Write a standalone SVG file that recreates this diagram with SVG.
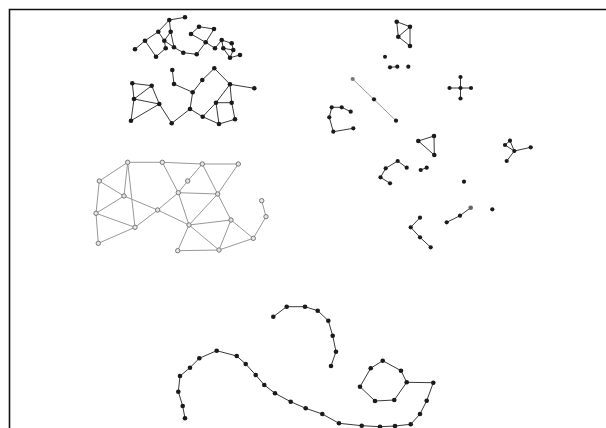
<svg xmlns="http://www.w3.org/2000/svg" width="606" height="428" viewBox="0 0 606 428">
<style>
.e{fill:none;stroke:#3a3a3a;stroke-width:1}
.eg{fill:none;stroke:#999;stroke-width:1}
.n{fill:#1a1a1a}
.ng{fill:#e6e6e6;stroke:#777;stroke-width:1}
</style>
<rect width="606" height="428" fill="#fff"/>
<path d="M9.5 428V9.5H606" fill="none" stroke="#111" stroke-width="1.6"/>
<g id="connectors">
<path class="e" d="M169.3 20L185 17.3M169.3 20L158.3 31.7M169.3 20L170.7 31.7M158.3 31.7L145 40.7M145 40.7L135 49.3M145 40.7L156 56.7M158.3 31.7L164.3 40.7M170.7 31.7L164.3 40.7M170.7 31.7L174 47.3M164.3 40.7L165.7 48.3M165.7 48.3L156 56.7M164.3 40.7L174 47.3M174 47.3L183.3 52.7L196.7 54.3L205.7 42.3L191 34L199 26.7L214 29L205.7 42.3L215 48.3L221.7 40L231.7 43.3L233.3 50L230 57.7L240 55M221.7 40L223.3 48.3L233.3 50M223.3 48.3L230 57.7"/>
<path class="e" d="M132.3 83.3L151.7 85.7L159.3 104L134 99L132.3 83.3M134 99L151.7 85.7M134 99L131 120.7L159.3 104L171.7 123.3L190 109L192.7 92.3L174 84L172.3 70M192.7 92.3L202.3 80L214.3 68.3L230 84.3L254.3 88.3M230 84.3L216 102.7L231.7 102.7L230 84.3M231.7 102.7L235 119.3L219 124L216 102.7M190 109L202.7 116.7L219 124M202.7 116.7L216 102.7"/>
<path class="eg" d="M127.7 162.3L162.3 162.3L202.3 164L238.3 164M127.7 162.3L99.3 181L124 196L127.7 162.3M99.3 181L96 213.3L124 196M127.7 162.3L135 227.3M96 213.3L135 227.3L98.3 243.3L96 213.3M124 196L157.7 210L135 227.3M157.7 210L178.3 192.7L187.7 181L202.3 164M162.3 162.3L178.3 192.7L217.7 194L202.3 164M238.3 164L217.7 194M178.3 192.7L189 225L157.7 210M217.7 194L189 225L231 220L217.7 194M189 225L177.7 250.7L219 250L189 225M231 220L219 250L253.3 238.3L231 220M253.3 238.3L266 216.7L261.7 200.7"/>
<path class="e" d="M396.7 21.7L410 26.7L398.3 36.7L396.7 21.7M410 26.7L410 46L398.3 36.7M390 67.3L397.3 66.7"/>
<path class="eg" d="M352.7 79L396 120.7" stroke-width="1.6"/>
<path class="e" d="M350.7 111.7L341.7 107.3L331.7 107.3L329.3 117.3L333.3 131.7L353.3 128.3"/>
<path class="e" d="M418.3 141L434 136L434.3 155Z"/>
<path class="e" d="M406.7 167.7L397.7 161L385.7 168.3L380.5 177.3L390 183.3M420.7 170L426.7 167.7"/>
<path class="e" d="M449.5 88H471M460.5 77V98.5"/>
<path class="e" d="M505 145L510 140.7L514.3 151L530.7 147.3M505 145L514.3 151L506.7 161"/>
<path class="e" d="M446.7 222.3L460 215.7L470.7 207.7"/>
<path class="e" d="M420 217.7L410.7 227.3L420 237.3L430.7 247.3"/>
<path class="e" d="M273.3 316.7L286.7 306.7L305 306.7L317.7 310.7L328.3 320.7L332.7 335.7L336 351.7L331 366"/>
<path class="e" d="M185 418.3L182.7 406L178.3 391.7L180 376L190 367.7L199.3 358.3L216.7 350.7L236.7 356L245.7 364L255.7 375L264.3 385L275 393.3L290.7 401.7L305.7 408.3L322.3 414L339 423.3L361.7 425.7L380 426.7L395 426L410.7 424.3L420 414L426.7 400.7L433.3 382.7L406.7 382.3"/>
<path class="e" d="M370.7 368.3L382.7 360.7L401 370.7L406.7 382.3L394.3 400L375 401L360 386.7Z"/>
</g>
<g id="cluster-top" class="n">
<circle cx="169.3" cy="20" r="2.3"/><circle cx="185" cy="17.3" r="2.3"/><circle cx="158.3" cy="31.7" r="2.3"/><circle cx="170.7" cy="31.7" r="2.3"/><circle cx="145" cy="40.7" r="2.3"/><circle cx="164.3" cy="40.7" r="2.3"/><circle cx="135" cy="49.3" r="2.3"/><circle cx="165.7" cy="48.3" r="2.3"/><circle cx="174" cy="47.3" r="2.3"/><circle cx="156" cy="56.7" r="2.3"/><circle cx="183.3" cy="52.7" r="2.3"/><circle cx="196.7" cy="54.3" r="2.3"/><circle cx="199" cy="26.7" r="2.3"/><circle cx="214" cy="29" r="2.3"/><circle cx="191" cy="34" r="2.3"/><circle cx="205.7" cy="42.3" r="2.3"/><circle cx="215" cy="48.3" r="2.3"/><circle cx="221.7" cy="40" r="2.3"/><circle cx="231.7" cy="43.3" r="2.3"/><circle cx="223.3" cy="48.3" r="2.3"/><circle cx="233.3" cy="50" r="2.3"/><circle cx="230" cy="57.7" r="2.3"/><circle cx="240" cy="55" r="2.3"/>
</g>
<g id="cluster-second" class="n">
<circle cx="132.3" cy="83.3" r="2.3"/><circle cx="151.7" cy="85.7" r="2.3"/><circle cx="134" cy="99" r="2.3"/><circle cx="159.3" cy="104" r="2.3"/><circle cx="131" cy="120.7" r="2.3"/><circle cx="172.3" cy="70" r="2.3"/><circle cx="174" cy="84" r="2.3"/><circle cx="171.7" cy="123.3" r="2.3"/><circle cx="192.7" cy="92.3" r="2.3"/><circle cx="202.3" cy="80" r="2.3"/><circle cx="214.3" cy="68.3" r="2.3"/><circle cx="190" cy="109" r="2.3"/><circle cx="202.7" cy="116.7" r="2.3"/><circle cx="230" cy="84.3" r="2.3"/><circle cx="254.3" cy="88.3" r="2.3"/><circle cx="216" cy="102.7" r="2.3"/><circle cx="231.7" cy="102.7" r="2.3"/><circle cx="219" cy="124" r="2.3"/><circle cx="235" cy="119.3" r="2.3"/>
</g>
<g id="cluster-mesh" class="ng">
<circle cx="127.7" cy="162.3" r="2.2"/><circle cx="162.3" cy="162.3" r="2.2"/><circle cx="202.3" cy="164" r="2.2"/><circle cx="238.3" cy="164" r="2.2"/><circle cx="99.3" cy="181" r="2.2"/><circle cx="187.7" cy="181" r="2.2"/><circle cx="124" cy="196" r="2.2"/><circle cx="178.3" cy="192.7" r="2.2"/><circle cx="217.7" cy="194" r="2.2"/><circle cx="157.7" cy="210" r="2.2"/><circle cx="96" cy="213.3" r="2.2"/><circle cx="135" cy="227.3" r="2.2"/><circle cx="189" cy="225" r="2.2"/><circle cx="231" cy="220" r="2.2"/><circle cx="261.7" cy="200.7" r="2.2"/><circle cx="266" cy="216.7" r="2.2"/><circle cx="253.3" cy="238.3" r="2.2"/><circle cx="98.3" cy="243.3" r="2.2"/><circle cx="177.7" cy="250.7" r="2.2"/><circle cx="219" cy="250" r="2.2"/>
</g>
<g id="cluster-small" class="n">
<circle cx="396.7" cy="21.7" r="2.3"/><circle cx="410" cy="26.7" r="2.3"/><circle cx="398.3" cy="36.7" r="2.3"/><circle cx="410" cy="46" r="2.3"/>
<circle cx="385" cy="56.7" r="2"/><circle cx="390" cy="67.3" r="2.1"/><circle cx="397.3" cy="66.7" r="2.1"/><circle cx="408.3" cy="66.7" r="2.1"/>
<circle cx="352.7" cy="79" r="2.1" fill="#777"/><circle cx="374" cy="99.3" r="2.1"/><circle cx="396" cy="120.7" r="2.1"/>
<circle cx="331.7" cy="107.3" r="2.1"/><circle cx="341.7" cy="107.3" r="2.1"/><circle cx="350.7" cy="111.7" r="2.1"/><circle cx="329.3" cy="117.3" r="2.1"/><circle cx="333.3" cy="131.7" r="2.1"/><circle cx="353.3" cy="128.3" r="2.1"/>
<circle cx="418.3" cy="141" r="2.3"/><circle cx="434" cy="136" r="2.3"/><circle cx="434.3" cy="155" r="2.3"/>
<circle cx="397.7" cy="161" r="2.1"/><circle cx="406.7" cy="167.7" r="2.1"/><circle cx="385.7" cy="168.3" r="2.1"/><circle cx="380.5" cy="177.3" r="2.1"/><circle cx="390" cy="183.3" r="2.1"/>
<circle cx="420.7" cy="170" r="2.1"/><circle cx="426.7" cy="167.7" r="2.1"/>
<circle cx="460.5" cy="88" r="2.1"/><circle cx="449.5" cy="88" r="2.1"/><circle cx="471" cy="88" r="2.1"/><circle cx="460.5" cy="77" r="2.1"/><circle cx="460.5" cy="98.5" r="2.1"/>
<circle cx="505" cy="145" r="2.1"/><circle cx="510" cy="140.7" r="2.1"/><circle cx="514.3" cy="151" r="2.1"/><circle cx="530.7" cy="147.3" r="2.1"/><circle cx="506.7" cy="161" r="2.1"/>
<circle cx="464" cy="181.7" r="2.1"/>
<circle cx="446.7" cy="222.3" r="2.1"/><circle cx="460" cy="215.7" r="2.1"/><circle cx="470.7" cy="207.7" r="2.3" fill="#666"/>
<circle cx="492.3" cy="209.3" r="2.1"/>
<circle cx="420" cy="217.7" r="2.1"/><circle cx="410.7" cy="227.3" r="2.1"/><circle cx="420" cy="237.3" r="2.1"/><circle cx="430.7" cy="247.3" r="2.1"/>
</g>
<g id="cluster-arc" class="n">
<circle cx="273.3" cy="316.7" r="2.3"/><circle cx="286.7" cy="306.7" r="2.3"/><circle cx="305" cy="306.7" r="2.3"/><circle cx="317.7" cy="310.7" r="2.3"/><circle cx="328.3" cy="320.7" r="2.3"/><circle cx="332.7" cy="335.7" r="2.3"/><circle cx="336" cy="351.7" r="2.3"/><circle cx="331" cy="366" r="2.3"/>
</g>
<g id="cluster-curve" class="n">
<circle cx="185" cy="418.3" r="2.3"/><circle cx="182.7" cy="406" r="2.3"/><circle cx="178.3" cy="391.7" r="2.3"/><circle cx="180" cy="376" r="2.3"/><circle cx="190" cy="367.7" r="2.3"/><circle cx="199.3" cy="358.3" r="2.3"/><circle cx="216.7" cy="350.7" r="2.3"/><circle cx="236.7" cy="356" r="2.3"/><circle cx="245.7" cy="364" r="2.3"/><circle cx="255.7" cy="375" r="2.3"/><circle cx="264.3" cy="385" r="2.3"/><circle cx="275" cy="393.3" r="2.3"/><circle cx="290.7" cy="401.7" r="2.3"/><circle cx="305.7" cy="408.3" r="2.3"/><circle cx="322.3" cy="414" r="2.3"/><circle cx="339" cy="423.3" r="2.3"/><circle cx="361.7" cy="425.7" r="2.3"/><circle cx="380" cy="426.7" r="2.3"/><circle cx="395" cy="426" r="2.3"/><circle cx="410.7" cy="424.3" r="2.3"/><circle cx="420" cy="414" r="2.3"/><circle cx="426.7" cy="400.7" r="2.3"/><circle cx="433.3" cy="382.7" r="2.3"/>
</g>
<g id="cluster-hexagon" class="n">
<circle cx="370.7" cy="368.3" r="2.3"/><circle cx="382.7" cy="360.7" r="2.3"/><circle cx="401" cy="370.7" r="2.3"/><circle cx="406.7" cy="382.3" r="2.3"/><circle cx="394.3" cy="400" r="2.3"/><circle cx="375" cy="401" r="2.3"/><circle cx="360" cy="386.7" r="2.3"/>
</g>
</svg>
